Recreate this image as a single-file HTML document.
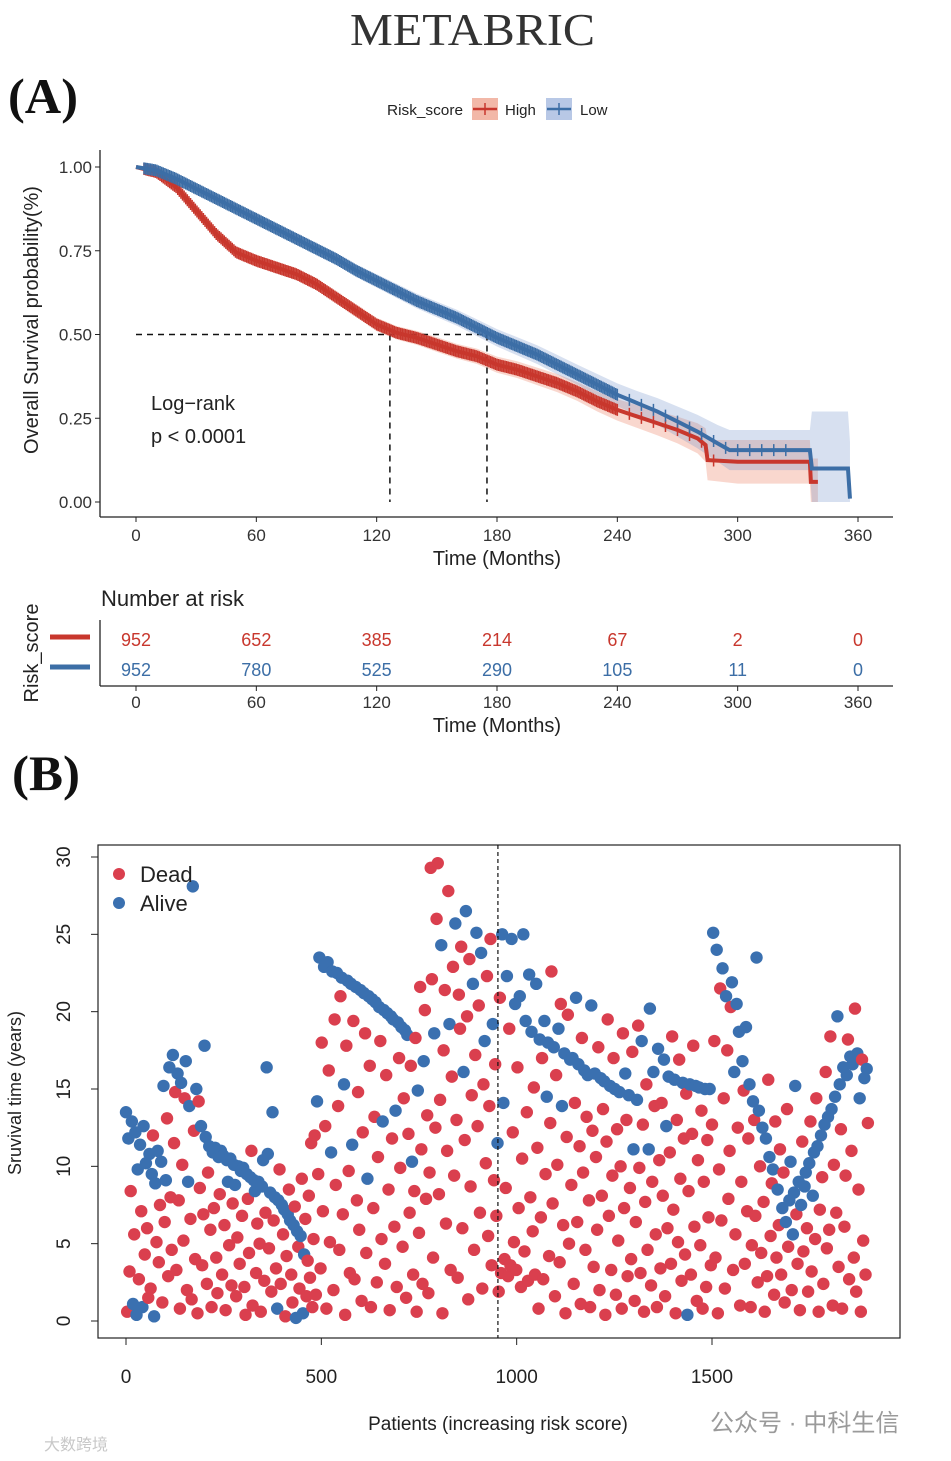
<!DOCTYPE html>
<html><head><meta charset="utf-8">
<style>
html,body{margin:0;padding:0;background:#fff;}
svg{display:block;font-family:"Liberation Sans",sans-serif;}
</style></head>
<body>
<svg id="root" width="951" height="1461" viewBox="0 0 951 1461" xmlns="http://www.w3.org/2000/svg">
<text x="350" y="45" textLength="245" lengthAdjust="spacingAndGlyphs" font-family="Liberation Serif, serif" font-size="46" fill="#333">METABRIC</text>
<text x="8" y="113" textLength="70" lengthAdjust="spacingAndGlyphs" font-family="Liberation Serif, serif" font-weight="bold" font-size="50" fill="#111">(A)</text>
<text x="12" y="790" textLength="68" lengthAdjust="spacingAndGlyphs" font-family="Liberation Serif, serif" font-weight="bold" font-size="50" fill="#111">(B)</text>
<g id="km"></g>
<g id="risk"></g>
<g id="scatter"></g>
<text x="710" y="1431" font-family="Liberation Sans, Noto Sans CJK SC, sans-serif" font-size="24" fill="#9a9a9a">公众号 · 中科生信</text>
<text x="44" y="1450" font-family="Liberation Sans, Noto Sans CJK SC, sans-serif" font-size="16" fill="#c8c8c8">大数跨境</text>
</svg>
<script>
const NS="http://www.w3.org/2000/svg";
// ---------- KM data ----------
const kmTicks=[0,60,120,180,240,300,360];
const kmYTicks=[0,0.25,0.5,0.75,1];
const kmYLabels=["0.00","0.25","0.50","0.75","1.00"];
const highTimes=[0,10,20,30,40,50,60,70,80,90,100,110,120,130,140,150,160,170,180,190,200,210,220,230,240,250,260,270,280,284,285,300,336,336.5,340];
const highSurv=[1,0.985,0.94,0.87,0.80,0.745,0.72,0.70,0.68,0.65,0.61,0.57,0.53,0.505,0.49,0.47,0.45,0.435,0.41,0.395,0.375,0.355,0.33,0.30,0.275,0.255,0.235,0.215,0.19,0.17,0.125,0.12,0.12,0.06,0.06];
const highCI=[0,0.006,0.01,0.012,0.014,0.015,0.015,0.016,0.016,0.017,0.018,0.019,0.02,0.02,0.021,0.022,0.022,0.023,0.024,0.025,0.026,0.027,0.028,0.03,0.032,0.034,0.036,0.04,0.045,0.05,0.06,0.065,0.065,0.07,0.07];
const lowTimes=[0,10,20,30,40,50,60,70,80,90,100,110,120,130,140,150,160,170,180,190,200,210,220,230,240,250,260,270,280,290,296,336,337,355,356];
const lowSurv=[1,0.99,0.965,0.935,0.905,0.875,0.845,0.815,0.785,0.755,0.725,0.69,0.66,0.63,0.60,0.575,0.55,0.52,0.49,0.465,0.44,0.41,0.38,0.35,0.32,0.295,0.27,0.24,0.21,0.175,0.155,0.155,0.10,0.10,0.01];
const lowCI=[0,0.005,0.008,0.01,0.012,0.013,0.014,0.015,0.016,0.017,0.018,0.019,0.02,0.021,0.022,0.023,0.024,0.025,0.026,0.027,0.028,0.029,0.03,0.032,0.034,0.036,0.04,0.045,0.05,0.055,0.06,0.06,0.17,0.17,0.17];
const medianHigh=126.6, medianLow=175;
const riskHigh=[952,652,385,214,67,2,0];
const riskLow=[952,780,525,290,105,11,0];
const RED="#C8372D", BLUE="#3C6EA6";
const kx=t=>136+t*(722/360);
const ky=s=>502-s*335;
function el(tag,attrs,parent,text){const e=document.createElementNS(NS,tag);for(const k in attrs)e.setAttribute(k,attrs[k]);if(text!==undefined)e.textContent=text;parent.appendChild(e);return e;}
const km=document.getElementById('km');
let a=el('line',{x1:100,y1:150,x2:100,y2:517,stroke:'#222','stroke-width':1.3},km);


a=el('line',{x1:100,y1:517,x2:893,y2:517,stroke:'#222','stroke-width':1.3},km);


kmYTicks.forEach((v,i)=>{el('line',{x1:95,x2:100,y1:ky(v),y2:ky(v),stroke:'#222'},km);
 const t=el('text',{x:92,y:ky(v)+6,'text-anchor':'end','font-size':17,fill:'#333'},km,kmYLabels[i]);
 
 });
kmTicks.forEach(v=>{el('line',{x1:kx(v),x2:kx(v),y1:517,y2:522,stroke:'#222'},km);
 const t=el('text',{x:kx(v),y:541,'text-anchor':'middle','font-size':17,fill:'#333'},km,String(v));
 
 });
let t=el('text',{x:497,y:565,'text-anchor':'middle','font-size':20,fill:'#222'},km,'Time (Months)');


t=el('text',{x:0,y:0,'text-anchor':'middle','font-size':20,fill:'#222',transform:'translate(38,320) rotate(-90)'},km,'Overall Survival probability(%)');


function band(times,surv,ci,color,name){
 let up=times.map((x,i)=>kx(x)+','+ky(Math.min(1,surv[i]+ci[i])));
 let dn=times.map((x,i)=>kx(x)+','+ky(Math.max(0,surv[i]-ci[i]))).reverse();
 const p=el('polygon',{points:up.concat(dn).join(' '),fill:color,'fill-opacity':0.28},km);
 
 }
band(highTimes,highSurv,highCI,'#E8704F','ci-band-high');
band(lowTimes,lowSurv,lowCI,'#6E8FC8','ci-band-low');
[[kx(0),ky(0.5),kx(medianLow),ky(0.5)],[kx(medianHigh),ky(0.5),kx(medianHigh),ky(0)],[kx(medianLow),ky(0.5),kx(medianLow),ky(0)]].forEach(c=>{
 const l=el('line',{x1:c[0],y1:c[1],x2:c[2],y2:c[3],stroke:'#111','stroke-width':1.5,'stroke-dasharray':'6,5'},km);
 
 });
function interp(times,surv,x){for(let i=1;i<times.length;i++){if(x<=times[i]){const f=(x-times[i-1])/(times[i]-times[i-1]||1);return surv[i-1]+f*(surv[i]-surv[i-1]);}}return surv[surv.length-1];}
function curve(times,surv,color,name,maxC){
 const p=el('polyline',{points:times.map((x,i)=>kx(x)+','+ky(surv[i])).join(' '),fill:'none',stroke:color,'stroke-width':4},km);
 
 
 let d='';
 for(let x=4;x<maxC;x+=(x<240?0.8:6)){const y=ky(interp(times,surv,x));d+=`M${kx(x)},${y-6}V${y+6}`;}
 const c=el('path',{d:d,stroke:color,'stroke-width':1.5,fill:'none'},km);
 
 }
curve(highTimes,highSurv,RED,'curve-high',290);
curve(lowTimes,lowSurv,BLUE,'curve-low',330);
t=el('text',{x:151,y:410,'font-size':20,fill:'#222'},km,'Log\u2212rank');


t=el('text',{x:151,y:443,'font-size':20,fill:'#222'},km,'p < 0.0001');


t=el('text',{x:387,y:115,'font-size':15,fill:'#222',textLength:76,lengthAdjust:'spacingAndGlyphs'},km,'Risk_score');


[[472,RED,'#F2B8A8','High',505],[546,BLUE,'#B8C8E6','Low',580]].forEach(L=>{
 const g=el('g',{},km);
 
 
 el('rect',{x:L[0],y:98,width:26,height:22,fill:L[2]},g);
 el('line',{x1:L[0]+1,x2:L[0]+25,y1:109,y2:109,stroke:L[1],'stroke-width':2.5},g);
 el('line',{x1:L[0]+13,x2:L[0]+13,y1:103,y2:115,stroke:L[1],'stroke-width':1.5},g);
 el('text',{x:L[4],y:115,'font-size':15,fill:'#222'},g,L[3]);});
const rk=document.getElementById('risk');
t=el('text',{x:101,y:606,'font-size':22,fill:'#222'},rk,'Number at risk');


el('line',{x1:100,y1:620,x2:100,y2:686,stroke:'#222','stroke-width':1.3},rk);
el('line',{x1:100,y1:686,x2:893,y2:686,stroke:'#222','stroke-width':1.3},rk);
kmTicks.forEach((v,i)=>{
 el('line',{x1:kx(v),x2:kx(v),y1:686,y2:691,stroke:'#222'},rk);
 let a=el('text',{x:kx(v),y:708,'text-anchor':'middle','font-size':17,fill:'#333'},rk,String(v));
 
 
 a=el('text',{x:kx(v),y:646,'text-anchor':'middle','font-size':18,fill:RED},rk,String(riskHigh[i]));
 
 
 a=el('text',{x:kx(v),y:676,'text-anchor':'middle','font-size':18,fill:BLUE},rk,String(riskLow[i]));
 
 });
el('line',{x1:50,x2:90,y1:637,y2:637,stroke:RED,'stroke-width':5},rk);
el('line',{x1:50,x2:90,y1:667,y2:667,stroke:BLUE,'stroke-width':5},rk);
t=el('text',{x:0,y:0,'text-anchor':'middle','font-size':20,fill:'#222',transform:'translate(38,653) rotate(-90)'},rk,'Risk_score');


t=el('text',{x:497,y:732,'text-anchor':'middle','font-size':20,fill:'#222'},rk,'Time (Months)');


// ---------- scatter data ----------
const patientStep=3;
const survYears=[
13.5,0.6,11.8,3.2,8.4,12.9,1.1,5.6,12.2,0.4,9.8,2.7,11.4,7.1,0.9,12.6,4.3,10.2,6.0,1.5,
10.8,2.1,9.5,12.0,0.3,8.9,5.1,11.0,3.8,7.5,10.3,1.2,15.2,6.4,9.1,13.1,2.9,16.4,8.0,4.6,
17.2,11.5,14.8,3.3,16.0,7.8,0.8,15.4,10.1,5.2,14.4,16.8,2.0,9.0,13.9,6.6,1.4,28.1,12.3,4.0,
15.0,0.5,14.2,8.6,12.6,3.6,6.9,17.8,11.9,2.4,9.6,11.3,5.9,0.9,10.9,7.3,11.2,4.1,1.8,10.6,
8.2,11.0,3.0,10.7,6.2,0.7,10.4,9.0,4.9,10.5,2.3,7.6,10.1,8.8,1.6,5.4,10.0,3.7,9.7,6.8,
9.9,2.2,0.4,9.5,7.9,4.4,9.3,11.0,1.0,9.1,8.4,3.1,6.3,9.0,5.0,0.6,8.7,10.4,2.6,7.0,
16.4,10.8,4.7,8.3,1.9,13.5,6.5,8.0,3.4,0.8,7.8,9.8,2.4,7.5,5.6,7.2,0.3,4.2,6.9,8.5,
6.5,3.0,1.2,6.2,7.4,0.2,5.8,4.8,2.1,5.5,9.2,0.5,4.3,6.6,1.6,3.9,8.1,2.8,11.5,0.9,
5.3,12.0,1.7,14.2,9.5,23.5,3.4,18.0,7.1,22.9,12.6,0.8,23.2,16.2,5.1,10.9,22.6,2.0,19.5,8.8,
22.5,13.9,4.6,21.0,22.2,6.9,15.3,0.4,17.8,22.0,9.7,3.1,21.8,11.4,19.4,2.7,21.6,7.8,14.8,5.9,
21.4,1.3,12.2,21.2,18.6,4.4,9.2,21.0,16.5,0.9,20.8,7.3,13.2,20.6,2.5,10.6,20.3,18.1,5.3,12.9,
20.1,3.7,15.9,19.9,8.5,0.7,19.7,11.8,19.5,6.1,13.6,2.2,19.3,17.0,9.9,19.0,4.8,14.4,18.8,1.5,
18.5,12.1,7.0,16.5,10.3,3.0,8.4,18.3,0.6,14.9,5.7,21.6,11.1,2.4,16.8,20.1,7.9,13.3,1.8,9.6,
29.3,22.1,4.1,18.6,12.5,26.0,29.6,8.2,14.3,24.3,0.5,17.5,21.4,6.3,11.0,27.8,19.2,3.3,15.8,22.9,
9.4,25.7,13.0,2.8,21.1,18.9,24.2,6.0,16.1,11.7,26.5,19.7,1.4,23.4,8.7,14.6,21.8,4.6,17.2,25.1,
12.6,20.4,7.0,23.8,2.1,15.3,18.1,10.2,22.3,5.5,13.9,24.7,3.6,19.2,9.1,16.6,6.8,11.5,1.9,20.9,
3.1,25.0,14.1,4.0,8.6,22.3,2.9,18.9,3.6,24.7,12.2,5.1,20.5,3.3,16.4,7.3,21.0,2.2,10.5,25.0,
4.5,19.4,13.5,2.6,22.4,8.0,18.7,5.8,15.1,3.0,21.8,11.2,0.8,18.2,6.7,17.0,2.7,19.4,9.5,14.5,
18.0,4.2,12.8,22.6,7.6,17.7,1.6,15.9,10.1,18.9,3.8,20.5,13.9,6.2,17.3,0.5,11.9,19.8,5.0,16.9,
8.8,17.0,2.4,14.1,20.9,6.4,16.6,11.3,1.1,18.3,9.6,16.2,4.6,13.2,15.9,7.8,0.9,20.4,12.3,3.5,
16.0,10.6,5.9,17.7,2.0,15.7,8.1,13.7,15.5,0.4,11.6,19.5,6.8,15.2,3.3,9.4,17.0,15.0,1.7,12.4,
5.2,14.8,10.0,0.8,18.6,7.3,16.0,13.0,2.9,14.6,8.6,4.0,17.4,11.1,1.3,6.4,14.3,19.1,9.9,3.1,
18.1,12.7,0.6,7.7,15.3,4.6,11.1,20.2,2.3,9.0,16.1,13.9,5.6,0.9,17.6,10.4,3.4,14.1,8.1,16.9,
1.6,12.6,6.0,15.8,10.9,3.7,18.4,7.2,15.6,0.5,13.0,5.1,16.9,9.2,2.6,15.4,11.8,4.3,14.7,0.4,
8.4,15.3,3.0,12.1,17.8,6.1,15.2,1.3,10.4,15.1,4.9,13.6,0.8,9.0,15.0,2.2,11.7,6.7,15.0,3.6,
12.7,25.1,18.1,4.1,24.0,0.5,9.8,21.5,6.5,22.8,14.4,2.1,21.0,17.5,7.9,11.0,20.3,21.9,3.3,16.1,
5.6,20.5,12.5,18.7,1.0,9.0,16.8,14.9,3.7,19.0,7.1,11.8,15.3,0.9,4.9,14.2,13.0,6.8,23.5,2.5,
13.6,10.0,4.4,12.5,7.7,0.6,11.8,2.9,15.6,10.6,5.5,8.9,9.8,1.7,12.9,4.1,8.5,6.2,11.1,3.0,
7.3,9.6,1.2,6.4,13.7,4.8,7.8,10.3,2.0,5.6,8.3,15.2,6.9,3.7,9.0,0.7,7.5,11.6,4.5,8.7,
9.6,6.0,1.9,10.2,12.9,3.2,8.1,10.9,5.3,14.4,11.3,0.6,7.2,12.0,9.3,2.4,12.7,16.1,4.7,13.2,
5.9,18.4,13.7,1.0,10.1,14.5,7.0,19.7,3.5,15.3,12.4,0.8,16.4,6.1,9.4,15.9,18.2,2.7,17.1,11.0,
16.6,4.1,20.2,1.9,17.3,8.5,14.4,0.6,16.9,5.2,15.7,3.0,16.3,12.8];
const vitalStatus=
"ADADDAADAAADADAADADD"+"ADADAADADDADADADDADD"+"ADDDADDADDDADAADDADD"+"ADDDADDAADDADDADADDA"+
"DADADDAADADDAADDADAD"+"ADDADDADDAADDADDAADD"+"AADADADADAADDADADDAD"+"ADDADAADDADAADDDDDDD"+
"DDDADADDDADDADDAADDD"+"ADDDADADDADDAADDADDD"+"ADDADDAADDADDADDADDA"+"ADDADDADADADADDADDAD"+
"ADDDADDDDADDDDADDDDD"+"DDDADDDDDADDDDDDADDD"+"DADDDDDDADADDDDDADDA"+"DDDADDADDDDDDADDDADD"+
"DAADDADDDADDADDDADDA"+"DADDADADDDADDADDDADA"+"ADDDDADDDADDADADDDDA"+"DADDADADDDDADDADDADD"+
"ADDDDADDADDDDADDDADD"+"DADDDDADDADDDADDADDD"+"ADDDDDAADDADDDADDDDA"+"DADADDDDADDDDDDADDDA"+
"DADDDDADDADDDDADDDAD"+"DADDADDDDADDADDDDADA"+"DADADDADDADDADDADDAD"+"ADDADDADDADDADDDADDD"+
"ADDADDAADAAADDADADDA"+"ADDADDAADDADDADDADDA"+"DDADDADADADDADDADDAD"+"ADDDADADDDADAD";
const xTicksB=[0,500,1000,1500];
const yTicksB=[0,5,10,15,20,25,30];
const riskCutoff=952;
const sx=p=>126+p*(586/1500);
const sy=v=>1321-v*(464/30);
const sc=document.getElementById('scatter');
let r=el('rect',{x:98,y:845,width:802,height:493,fill:'none',stroke:'#222','stroke-width':1.2},sc);


xTicksB.forEach(v=>{el('line',{x1:sx(v),x2:sx(v),y1:1338,y2:1345,stroke:'#222'},sc);
 const a=el('text',{x:sx(v),y:1383,'text-anchor':'middle','font-size':19,fill:'#222'},sc,String(v));
 
 });
yTicksB.forEach(v=>{el('line',{x1:91,x2:98,y1:sy(v),y2:sy(v),stroke:'#222'},sc);
 const a=el('text',{x:0,y:0,'text-anchor':'middle','font-size':19,fill:'#222',transform:`translate(70,${sy(v)}) rotate(-90)`},sc,String(v));
 
 });
t=el('text',{x:498,y:1430,'text-anchor':'middle','font-size':19,fill:'#222'},sc,'Patients (increasing risk score)');


t=el('text',{x:0,y:0,'text-anchor':'middle','font-size':18,fill:'#222',transform:'translate(21,1093) rotate(-90)'},sc,'Sruvival time (years)');


const dots=el('g',{},sc);


survYears.forEach((v,i)=>{
 const c=el('circle',{cx:sx(i*patientStep),cy:sy(v),r:6.2,fill:vitalStatus[i]==='A'?'#3A70B0':'#DA3F4E'},dots);
 
 });
let cl=el('line',{x1:sx(riskCutoff),x2:sx(riskCutoff),y1:845,y2:1338,stroke:'#111','stroke-width':1.2,'stroke-dasharray':'4,3'},sc);


[['Dead','#DA3F4E',874],['Alive','#3A70B0',903]].forEach(L=>{
 const g=el('g',{},sc);
 
 
 el('circle',{cx:119,cy:L[2],r:6,fill:L[1]},g);
 el('text',{x:140,y:L[2]+8,'font-size':22,fill:'#222'},g,L[0]);});
</script>
</body></html>
